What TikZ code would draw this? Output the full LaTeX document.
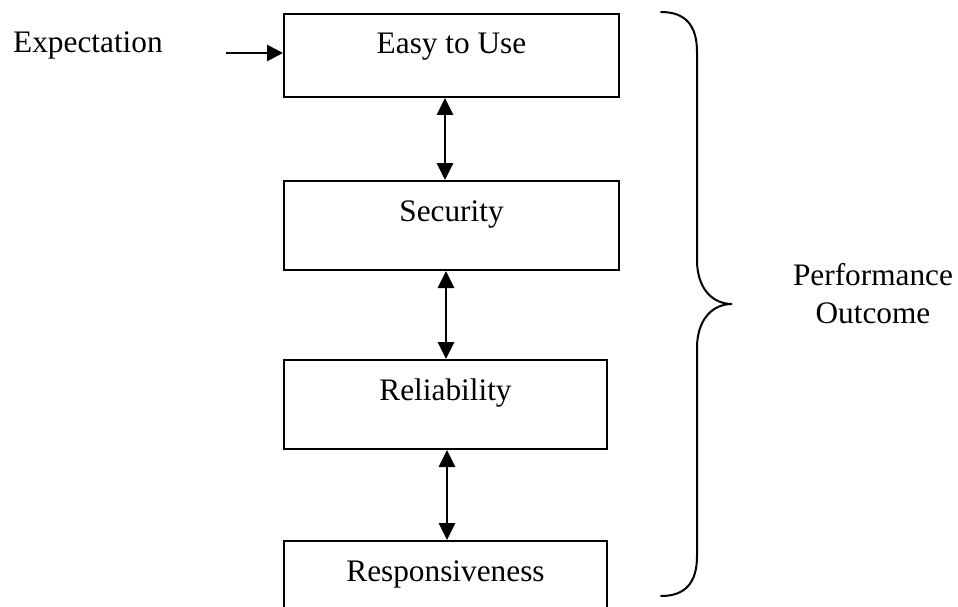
\documentclass[tikz,border=0pt]{standalone}
\usepackage{fontspec}
\setmainfont{Liberation Serif}
\usetikzlibrary{arrows.meta}
\begin{document}
\begin{tikzpicture}[x=1pt,y=-1pt,
  font=\fontsize{31.3}{38}\selectfont,
  box/.style={draw, line width=2pt, inner xsep=0pt, inner ysep=0pt,
    text height=40pt, anchor=north},
  link/.style={line width=2.8pt, {Triangle[length=17pt,width=16pt]}-{Triangle[length=17pt,width=16pt]}},
  feed/.style={line width=2.8pt, -{Triangle[length=16pt,width=16pt]}},
  brace/.style={line width=2pt, line cap=round}]
\useasboundingbox (0,0) rectangle (958,607);
\clip (0,0) rectangle (958,607);

% the four quality boxes
\node[box, minimum width=335pt, text depth=43pt] (b1) at (451.5,13) {Easy to Use};
\node[box, minimum width=335pt, text depth=49pt] (b2) at (451.5,180) {Security};
\node[box, minimum width=323pt, text depth=49pt] (b3) at (445.5,359) {Reliability};
\node[box, minimum width=323pt, text depth=49pt] (b4) at (445.5,540) {Responsiveness};

% two-way links between neighbouring boxes
\draw[link] ([xshift=-6.5pt]b1.south) -- ([xshift=-6.5pt]b2.north);
\draw[link] ([xshift=-5.5pt]b2.south) -- ([xshift=0.5pt]b3.north);
\draw[link] ([xshift=1.5pt]b3.south) -- ([xshift=1.5pt]b4.north);

% incoming expectation
\node[anchor=base west, inner sep=0pt] (exp) at (13,53) {Expectation};
\coordinate (e0) at (226,53);
\draw[feed] (e0) -- (e0 -| b1.west);

% curly brace on the right
\draw[brace] (661,12) .. controls (686,12) and (697,26) .. (697,52)
  -- (697,260) .. controls (697,288) and (712,304) .. (732,304)
  .. controls (712,304) and (697,320) .. (697,348)
  -- (697,556) .. controls (697,582) and (686,596) .. (661,596);

\node[align=center, inner sep=0pt, anchor=center] (perf) at (873,294) {Performance\\Outcome};
\end{tikzpicture}
\end{document}
